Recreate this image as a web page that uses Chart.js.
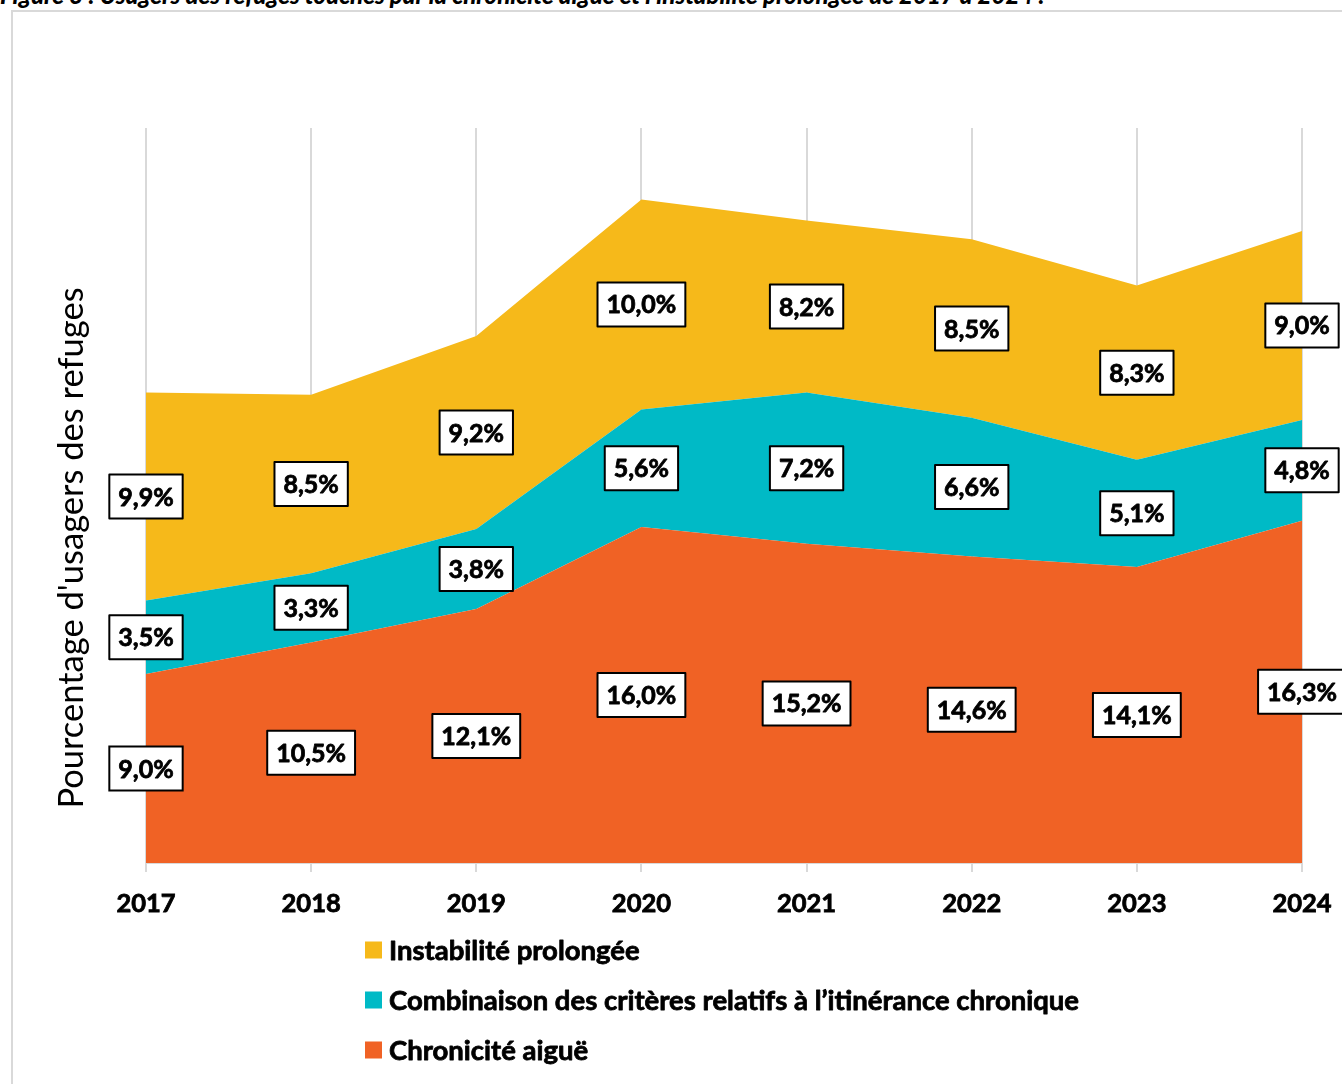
<!DOCTYPE html>
<html lang="fr">
<head>
<meta charset="utf-8">
<script src="https://cdn.jsdelivr.net/npm/chart.js@4/dist/chart.umd.min.js"></script>
<style>
  html, body { margin: 0; padding: 0; background: #fff; overflow: hidden; }
  #wrap { position: relative; width: 1342px; height: 1084px; overflow: hidden; }
  #frame { position: absolute; left: 11px; top: 10px; width: 1400px; height: 1200px;
           border-left: 2px solid #d9d9d9; border-top: 2px solid #d9d9d9; }
  #title { position: absolute; left: 0; top: -18px; white-space: nowrap;
           font: italic 900 24px/25px Lato, sans-serif; color: #000; }
  canvas { position: absolute; left: 0; top: 0; }
</style>
</head>
<body>
<div id="wrap">
  <div id="frame"></div>
  <div id="title">Figure 3 : Usagers des refuges touchés par la chronicité aiguë et l’instabilité prolongée de 2017 à 2024 :</div>
  <canvas id="c" width="1342" height="1084"></canvas>
</div>
<script>
// ---- Data ----
const years = ['2017', '2018', '2019', '2020', '2021', '2022', '2023', '2024'];
const chroniciteAigue = [9.0, 10.5, 12.1, 16.0, 15.2, 14.6, 14.1, 16.3];
const combinaisonCriteres = [3.5, 3.3, 3.8, 5.6, 7.2, 6.6, 5.1, 4.8];
const instabiliteProlongee = [9.9, 8.5, 9.2, 10.0, 8.2, 8.5, 8.3, 9.0];
const seriesNames = ['Chronicité aiguë', 'Combinaison des critères relatifs à l’itinérance chronique', 'Instabilité prolongée'];
const yAxisTitle = "Pourcentage d'usagers des refuges";

const COLORS = ['#F06225', '#00BAC6', '#F6B91A'];
const FONT = 'Lato, "Open Sans", sans-serif';

function fmt(v) { return v.toFixed(1).replace('.', ',') + '%'; }

function heavyText(ctx, t, x, y) {
  ctx.lineWidth = 0.8;
  ctx.strokeStyle = '#000';
  ctx.lineJoin = 'round';
  ctx.strokeText(t, x, y);
  ctx.fillText(t, x, y);
}

const labelPlugin = {
  id: 'boxLabels',
  afterDatasetsDraw(chart) {
    const ctx = chart.ctx;
    const y = chart.scales.y;
    const x = chart.scales.x;
    const ds = chart.data.datasets;
    ctx.save();
    ctx.font = 'bold 25px ' + FONT;
    ctx.textAlign = 'center';
    ctx.textBaseline = 'middle';
    for (let i = 0; i < years.length; i++) {
      let base = 0;
      for (let d = 0; d < ds.length; d++) {
        const v = ds[d].data[i];
        const cy = y.getPixelForValue(base + v / 2);
        const cx = x.getPixelForValue(i);
        base += v;
        const t = fmt(v);
        const w = ctx.measureText(t).width + 18;
        const h = 44;
        ctx.fillStyle = '#fff';
        ctx.fillRect(cx - w / 2, cy - h / 2, w, h);
        ctx.lineWidth = 2;
        ctx.strokeStyle = '#000';
        ctx.strokeRect(cx - w / 2, cy - h / 2, w, h);
        ctx.fillStyle = '#000';
        heavyText(ctx, t, cx, cy + 1);
      }
    }
    ctx.restore();
  },
  afterDraw(chart) {
    const ctx = chart.ctx;
    ctx.save();
    // y axis title
    ctx.translate(72, 548);
    ctx.rotate(-Math.PI / 2);
    ctx.font = '34.5px ' + FONT;
    ctx.fillStyle = '#000';
    ctx.textAlign = 'center';
    ctx.textBaseline = 'middle';
    ctx.fillText(yAxisTitle, 0, 0);
    ctx.restore();

    // legend (reverse order, vertical)
    ctx.save();
    ctx.font = 'bold 27.5px ' + FONT;
    ctx.textBaseline = 'middle';
    ctx.textAlign = 'left';
    const items = chart.data.datasets.slice().reverse();
    items.forEach((d, k) => {
      const cy = 950 + k * 50;
      ctx.fillStyle = d.backgroundColor;
      ctx.fillRect(365, cy - 8.5, 17, 17);
      ctx.fillStyle = '#000';
      heavyText(ctx, d.label, 389, cy + 1);
    });
    ctx.restore();
  }
};

new Chart(document.getElementById('c'), {
  type: 'line',
  data: {
    labels: years,
    datasets: [
      { label: seriesNames[0], data: chroniciteAigue, backgroundColor: COLORS[0], borderColor: COLORS[0], fill: 'origin' },
      { label: seriesNames[1], data: combinaisonCriteres, backgroundColor: COLORS[1], borderColor: COLORS[1], fill: '-1' },
      { label: seriesNames[2], data: instabiliteProlongee, backgroundColor: COLORS[2], borderColor: COLORS[2], fill: '-1' }
    ]
  },
  options: {
    responsive: false,
    animation: false,
    devicePixelRatio: 1,
    elements: { line: { borderWidth: 0, tension: 0 }, point: { radius: 0 } },
    layout: { padding: { left: 146, top: 128, right: 40, bottom: 161 } },
    plugins: { legend: { display: false }, tooltip: { enabled: false } },
    scales: {
      x: {
        offset: false,
        grid: { display: true, color: '#d9d9d9', lineWidth: 2, tickLength: 9, drawTicks: true },
        border: { display: true, color: '#d9d9d9', width: 2 },
        ticks: { color: '#000', font: { family: FONT, size: 25.5, weight: 'bold' }, padding: 16, maxRotation: 0,
                 textStrokeColor: '#000', textStrokeWidth: 0.8 },
        afterFit(scale) { scale.height = 60; scale.paddingLeft = 0; scale.paddingRight = 0; }
      },
      y: {
        display: false,
        stacked: true,
        min: 0,
        max: 35
      }
    }
  },
  plugins: [labelPlugin]
});
</script>
</body>
</html>
